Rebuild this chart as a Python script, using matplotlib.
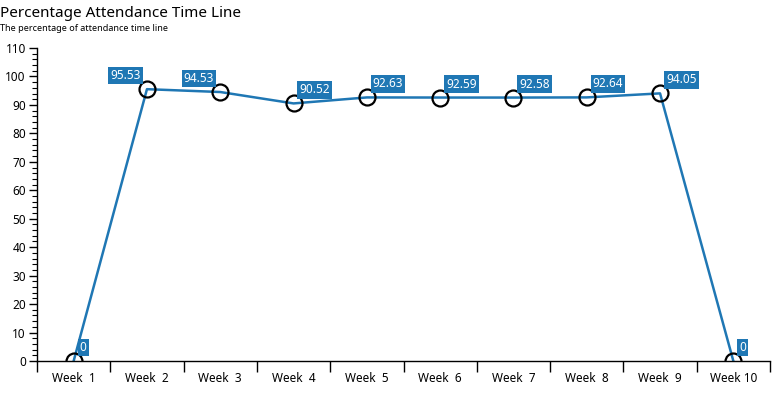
import matplotlib.pyplot as plt
from matplotlib.ticker import MultipleLocator, FixedLocator

plt.rcParams['font.family'] = ['Noto Sans', 'DejaVu Sans']

weeks = ["Week  1", "Week  2", "Week  3", "Week  4", "Week  5",
         "Week  6", "Week  7", "Week  8", "Week  9", "Week 10"]
attendance = [0, 95.53, 94.53, 90.52, 92.63, 92.59, 92.58, 92.64, 94.05, 0]
# which side of the point each value label sits on
label_side = ["right", "left", "left", "right", "right",
              "right", "right", "right", "right", "right"]

blue = "#1f77b4"

fig = plt.figure(figsize=(7.8, 3.98), dpi=100)
ax = fig.add_axes([37 / 780, 1 - 361 / 398, 733 / 780, 313 / 398])

x = list(range(len(weeks)))
ax.plot(x, attendance, color=blue, lw=1.8, zorder=2)
ax.plot(x, attendance, ls="none", marker="o", ms=11.5, mfc="none",
        mec="black", mew=1.6, zorder=3)

for xi, val, side in zip(x, attendance, label_side):
    dx = 6 if side == "right" else -6
    ax.annotate(f"{val:g}" if val == 0 else f"{val:.2f}", (xi, val),
                xytext=(dx, 7), textcoords="offset pixels",
                ha="left" if side == "right" else "right", va="bottom",
                color="white", fontsize=8.5,
                bbox=dict(boxstyle="square,pad=0.18", fc=blue, ec="none"),
                zorder=4, annotation_clip=False)

ax.set_xlim(-0.5, len(weeks) - 0.5)
ax.set_ylim(0, 110)
ax.set_xticks(x)
ax.set_xticklabels(weeks, fontsize=8.5)
ax.xaxis.set_minor_locator(FixedLocator([i - 0.5 for i in range(len(weeks) + 1)]))
ax.tick_params(axis="x", which="major", length=0, pad=8)
ax.tick_params(axis="x", which="minor", length=8, width=1)

ax.yaxis.set_major_locator(MultipleLocator(10))
ax.yaxis.set_minor_locator(MultipleLocator(2))
ax.tick_params(axis="y", which="major", length=6, width=1, labelsize=8.5, pad=2)
ax.tick_params(axis="y", which="minor", length=3.5, width=0.8)

for s in ["top", "right"]:
    ax.spines[s].set_visible(False)
for s in ["left", "bottom"]:
    ax.spines[s].set_linewidth(1)

fig.text(0.0, 0.985, "Percentage Attendance Time Line", fontsize=11,
         ha="left", va="top")
fig.text(0.0, 0.94, "The percentage of attendance time line", fontsize=6.5,
         ha="left", va="top")

fig.savefig("out.png", dpi=100)
